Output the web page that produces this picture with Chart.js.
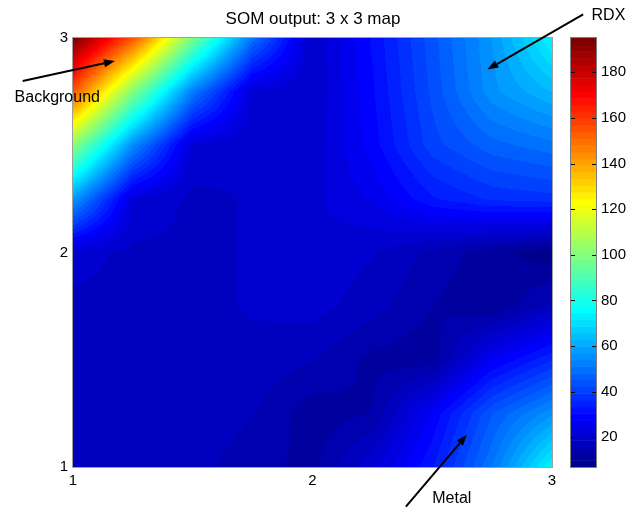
<!DOCTYPE html>
<html>
<head>
<meta charset="utf-8">
<script src="https://cdn.jsdelivr.net/npm/chart.js@4.4.0/dist/chart.umd.min.js"></script>
<style>
  html, body { margin: 0; padding: 0; background: #fff; }
  #wrap { width: 626px; height: 508px; }
</style>
</head>
<body>
<div id="wrap"><canvas id="somChart"></canvas></div>
<script>
//------------------------------ DATA ----------------------------------
// node positions of the value grid (x left->right, y top->bottom)
const xNodes = [1, 1.25, 1.5, 1.75, 2, 2.25, 2.5, 2.75, 3];
const yNodes = [3, 2.75, 2.5, 2.25, 2, 1.75, 1.5, 1.25, 1];

// values, one row per yNodes entry
const somValues = [
    [195, 155,  98,  50,  19,  31,  44,  57,  75],
    [155, 100,  52,  21,  19,  30,  43,  56,  63],
    [102,  55,  21,  19,  20,  29,  41,  47,  50],
    [ 58,  22,  18,  19,  21,  25,  33,  37,  38],
    [ 20,  18,  18,  19,  21,  19,  15,  11,   8],
    [ 18,  18,  18,  19,  20,  17,  13,  10,  17],
    [ 18,  18,  18,  18,  16,  12,  11,  27,  36],
    [ 18,  18,  18,  16,  11,  13,  28,  45,  56],
    [ 18,  18,  17,  14,  12,  21,  33,  51,  75]
];

const axisTicks = [1, 2, 3];
const colorTicks = [20, 40, 60, 80, 100, 120, 140, 160, 180];
const colorMin = 7;
const colorMax = 195;
const colorLevels = 64;
const titleText = 'SOM output: 3 x 3 map';

// labels with arrows (data coordinates)
const notes = [
    { label: 'Background', tail: [0.79, 2.80], head: [1.175, 2.893], at: [0.756, 2.72] },
    { label: 'RDX',        tail: [3.13, 3.11], head: [2.73, 2.853],  at: [3.165, 3.106] },
    { label: 'Metal',      tail: [2.39, 0.815], head: [2.645, 1.15], at: [2.50, 0.852] }
];

Chart.defaults.font.family = '"Liberation Sans", Arial, Helvetica, sans-serif';
Chart.defaults.color = '#000';

//------------------------------ COLOR MAP ----------------------------------
function clamp01(v) { return Math.max(0, Math.min(1, v)); }

// jet colormap, quantised like matlab jet(64)
function jetColor(value) {
    let t = (value - colorMin) / (colorMax - colorMin);
    let k = Math.floor(t * colorLevels);
    k = Math.max(0, Math.min(colorLevels - 1, k));
    const q = (k + 1) / colorLevels;
    return [
        Math.round(255 * clamp01(1.5 - Math.abs(4 * q - 3))),
        Math.round(255 * clamp01(1.5 - Math.abs(4 * q - 2))),
        Math.round(255 * clamp01(1.5 - Math.abs(4 * q - 1)))
    ];
}

// fractional index of v inside a monotone node list
function nodeIndex(nodes, v) {
    for (let i = 0; i < nodes.length - 1; i++) {
        const a = nodes[i], b = nodes[i + 1];
        if ((v - a) * (v - b) <= 0) {
            return i + (v - a) / (b - a);
        }
    }
    return v < nodes[0] === nodes[0] < nodes[1] ? 0 : nodes.length - 1;
}

function valueAt(x, y) {
    const fi = nodeIndex(xNodes, x);
    const fj = nodeIndex(yNodes, y);
    const i = Math.min(Math.floor(fi), xNodes.length - 2);
    const j = Math.min(Math.floor(fj), yNodes.length - 2);
    const u = fi - i, w = fj - j;
    const v00 = somValues[j][i], v10 = somValues[j][i + 1];
    const v01 = somValues[j + 1][i], v11 = somValues[j + 1][i + 1];
    return (v00 * (1 - u) + v10 * u) * (1 - w) + (v01 * (1 - u) + v11 * u) * w;
}

//------------------------------ PLUGINS ----------------------------------
const heatmapPlugin = {
    id: 'heatmap',
    beforeDatasetsDraw(chart) {
        const { ctx, chartArea, scales } = chart;
        const w = Math.round(chartArea.right - chartArea.left);
        const h = Math.round(chartArea.bottom - chartArea.top);
        const off = document.createElement('canvas');
        off.width = w;
        off.height = h;
        const octx = off.getContext('2d');
        const img = octx.createImageData(w, h);
        for (let py = 0; py < h; py++) {
            const yv = scales.y.getValueForPixel(chartArea.top + py + 0.5);
            for (let px = 0; px < w; px++) {
                const xv = scales.x.getValueForPixel(chartArea.left + px + 0.5);
                const c = jetColor(valueAt(xv, yv));
                const p = (py * w + px) * 4;
                img.data[p] = c[0];
                img.data[p + 1] = c[1];
                img.data[p + 2] = c[2];
                img.data[p + 3] = 255;
            }
        }
        octx.putImageData(img, 0, 0);
        ctx.drawImage(off, chartArea.left, chartArea.top);

        ctx.save();
        ctx.strokeStyle = '#a0a0a0';
        ctx.lineWidth = 1;
        ctx.strokeRect(chartArea.left - 0.5, chartArea.top - 0.5, w + 1, h + 1);
        ctx.restore();
    },
    afterDraw(chart) {
        const { ctx, scales } = chart;
        const cb = scales.cb;
        const barLeft = cb.left + 19;
        const barWidth = 25;
        const step = (colorMax - colorMin) / colorLevels;

        // colorbar
        ctx.save();
        for (let k = 0; k < colorLevels; k++) {
            const v0 = colorMin + k * step;
            const y0 = cb.getPixelForValue(v0);
            const y1 = cb.getPixelForValue(v0 + step);
            const c = jetColor(v0 + step / 2);
            ctx.fillStyle = `rgb(${c[0]},${c[1]},${c[2]})`;
            ctx.fillRect(barLeft, y1, barWidth, y0 - y1 + 0.5);
        }
        ctx.strokeStyle = '#808080';
        ctx.lineWidth = 1;
        ctx.strokeRect(barLeft - 0.5, cb.top - 0.5, barWidth + 1, cb.bottom - cb.top + 1);
        ctx.strokeStyle = '#000';
        colorTicks.forEach(t => {
            const y = Math.round(cb.getPixelForValue(t)) + 0.5;
            ctx.beginPath();
            ctx.moveTo(barLeft, y);
            ctx.lineTo(barLeft + 4, y);
            ctx.moveTo(barLeft + barWidth, y);
            ctx.lineTo(barLeft + barWidth - 4, y);
            ctx.stroke();
        });
        ctx.restore();

        // annotations
        ctx.save();
        ctx.strokeStyle = '#000';
        ctx.fillStyle = '#000';
        ctx.lineWidth = 2;
        notes.forEach(n => {
            const x0 = scales.x.getPixelForValue(n.tail[0]);
            const y0 = scales.y.getPixelForValue(n.tail[1]);
            const x1 = scales.x.getPixelForValue(n.head[0]);
            const y1 = scales.y.getPixelForValue(n.head[1]);
            const ang = Math.atan2(y1 - y0, x1 - x0);
            const len = 11, half = 4;
            const bx = x1 - len * Math.cos(ang), by = y1 - len * Math.sin(ang);
            ctx.beginPath();
            ctx.moveTo(x0, y0);
            ctx.lineTo(bx, by);
            ctx.stroke();
            ctx.beginPath();
            ctx.moveTo(x1, y1);
            ctx.lineTo(bx + half * Math.sin(ang), by - half * Math.cos(ang));
            ctx.lineTo(bx - half * Math.sin(ang), by + half * Math.cos(ang));
            ctx.closePath();
            ctx.fill();

            ctx.font = '16px "Liberation Sans", Arial, sans-serif';
            ctx.textAlign = 'left';
            ctx.textBaseline = 'middle';
            ctx.fillText(n.label, scales.x.getPixelForValue(n.at[0]), scales.y.getPixelForValue(n.at[1]));
        });
        ctx.restore();
    }
};

//------------------------------ CHART ----------------------------------
const nodePoints = [];
yNodes.forEach((y, j) => {
    xNodes.forEach((x, i) => nodePoints.push({ x: x, y: y, v: somValues[j][i] }));
});

const tickFont = { size: 15 };

new Chart(document.getElementById('somChart'), {
    type: 'scatter',
    data: {
        datasets: [{
            label: 'SOM',
            data: nodePoints,
            pointRadius: 0,
            showLine: false
        }]
    },
    options: {
        responsive: true,
        maintainAspectRatio: false,
        animation: false,
        layout: { padding: 0 },
        plugins: {
            legend: { display: false },
            tooltip: { enabled: false },
            title: {
                display: true,
                text: titleText,
                color: '#000',
                font: { size: 17, weight: 'normal' },
                padding: { top: 9, bottom: 8.6 }
            }
        },
        scales: {
            x: {
                type: 'linear',
                min: 1,
                max: 3,
                afterBuildTicks: s => { s.ticks = axisTicks.map(v => ({ value: v })); },
                afterFit: s => { s.height = 41; },
                grid: { display: false, drawTicks: false, tickLength: 0 },
                border: { display: false },
                ticks: { font: tickFont, color: '#000', padding: 5, maxRotation: 0 }
            },
            y: {
                type: 'linear',
                min: 1,
                max: 3,
                afterBuildTicks: s => { s.ticks = axisTicks.map(v => ({ value: v })); },
                afterFit: s => { s.width = 73; },
                grid: { display: false, drawTicks: false, tickLength: 0 },
                border: { display: false },
                ticks: { font: tickFont, color: '#000', padding: 5 }
            },
            cb: {
                type: 'linear',
                axis: 'y',
                position: 'right',
                min: colorMin,
                max: colorMax,
                afterBuildTicks: s => { s.ticks = colorTicks.map(v => ({ value: v })); },
                afterFit: s => { s.width = 74; },
                grid: { display: false, drawTicks: true, tickLength: 44 },
                border: { display: false },
                ticks: { font: { size: 15 }, color: '#000', padding: 5 }
            }
        }
    },
    plugins: [heatmapPlugin]
});
</script>
</body>
</html>
